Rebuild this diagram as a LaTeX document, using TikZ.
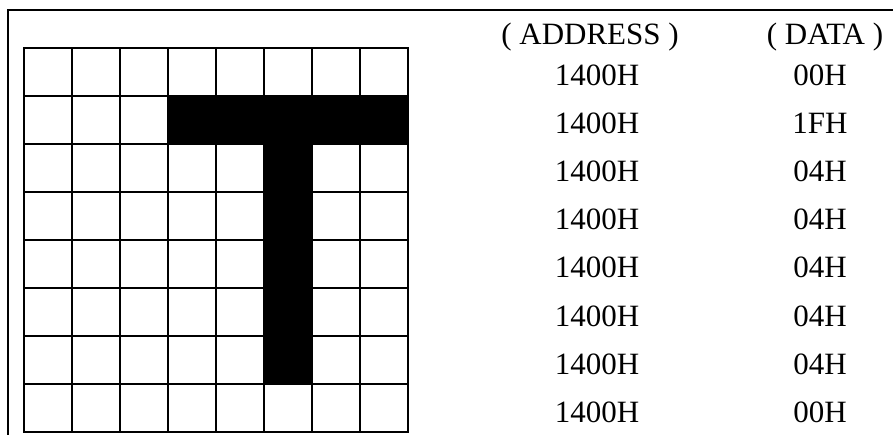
\documentclass[tikz,border=0pt]{standalone}
\usepackage{fontspec}
\setmainfont{Liberation Serif}
\begin{document}
\begin{tikzpicture}[x=1pt,y=-1pt,
  gridline/.style={line width=2.3pt,line cap=rect},
  frameline/.style={line width=2.2pt},
  lbl/.style={anchor=base,inner sep=0pt,font=\fontsize{31}{34}\selectfont}]
\useasboundingbox (0,0) rectangle (893,435);
% frame
\draw[frameline] (8.3,436) -- (8.3,10) -- (894,10);
% black pixels
\fill[black] (168,96) rectangle (408,144);
\fill[black] (264,144) rectangle (312,384);
% grid
\foreach \i in {0,...,8} {
  \draw[gridline] (24+48*\i,48) -- (24+48*\i,432);
  \draw[gridline] (24,48+48*\i) -- (408,48+48*\i);
}
% headers
\node[lbl] (ha) at (590,45) {( ADDRESS )};
\node[lbl] (hd) at (825,45) {( DATA )};
% rows
\foreach \d [count=\k from 0] in {00H,1FH,04H,04H,04H,04H,04H,00H} {
  \node[lbl] (a\k) at (597,86+48*\k) {1400H};
  \node[lbl] (d\k) at (820,86+48*\k) {\d};
}
\end{tikzpicture}
\end{document}
